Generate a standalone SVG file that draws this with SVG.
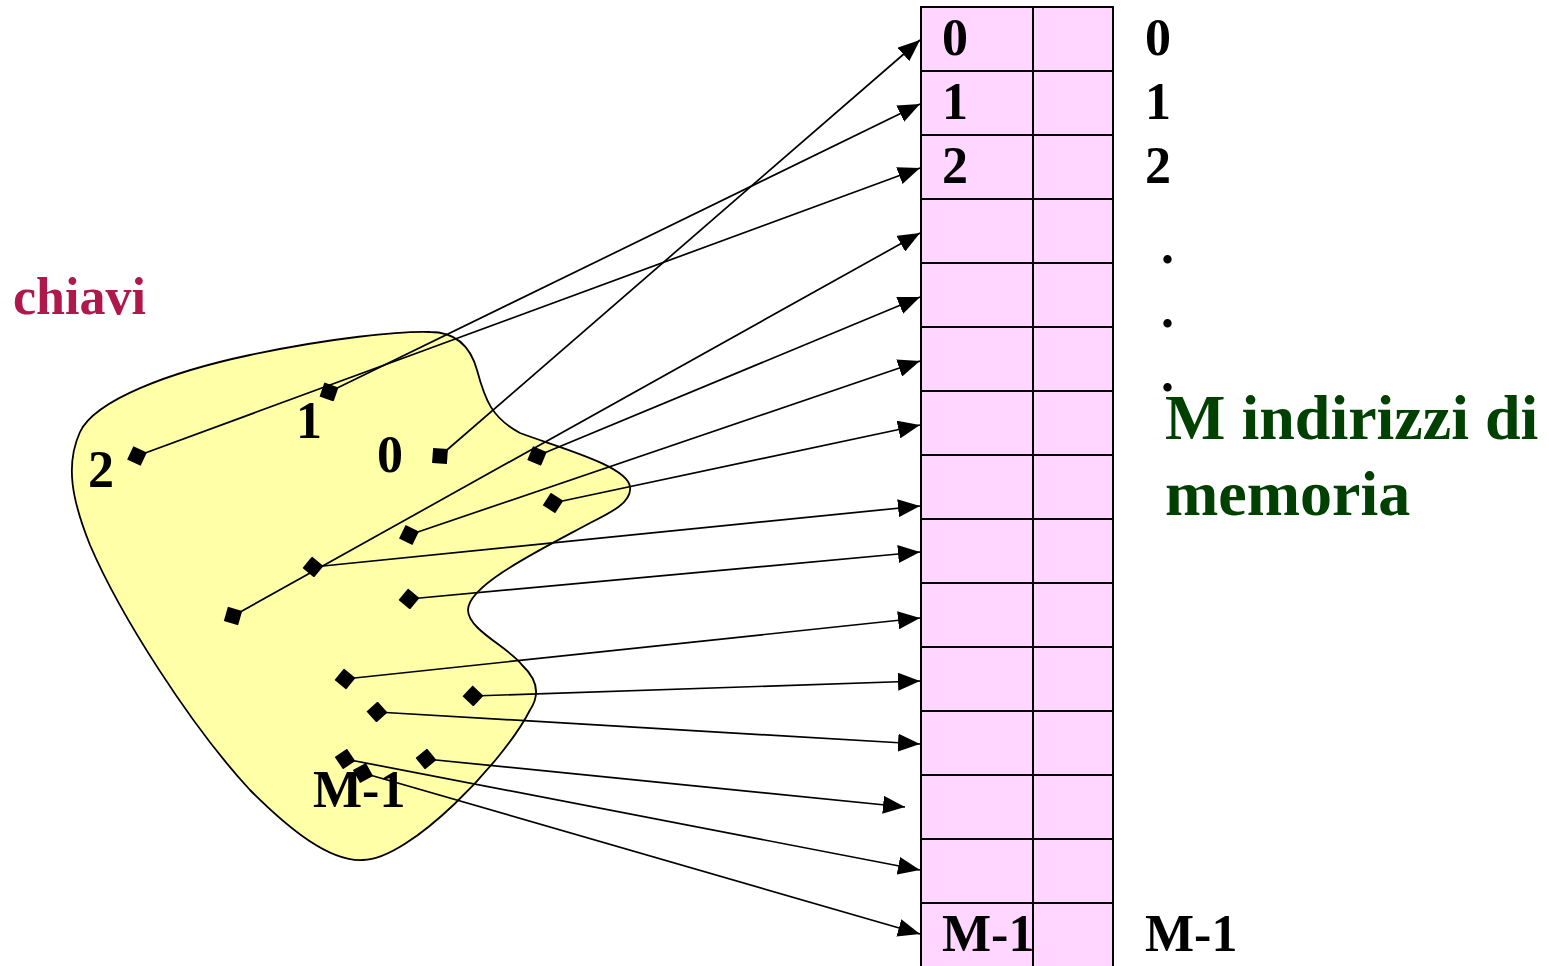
<svg xmlns="http://www.w3.org/2000/svg" width="1549" height="966" viewBox="0 0 1549 966">
<style>
  .t { font-family: "Liberation Serif", "Times New Roman", serif; font-weight: bold; font-size: 52px; fill: #000; }
  .big { font-size: 64px; fill: #004000; }
  .red { fill: #B0174A; }
  .grid { stroke: #000; stroke-width: 2; fill: none; }
  .conn { stroke: #000; stroke-width: 1.7; fill: none; marker-start: url(#dia); marker-end: url(#arr); }
</style>
<defs>
  <marker id="arr" viewBox="0 0 22 18" refX="22" refY="9" markerWidth="22" markerHeight="18" markerUnits="userSpaceOnUse" orient="auto">
    <path d="M0,0 L22,9 L0,18 z" fill="#000"/>
  </marker>
  <marker id="dia" viewBox="0 0 21 21" refX="10.5" refY="10.5" markerWidth="21" markerHeight="21" markerUnits="userSpaceOnUse" orient="auto">
    <path d="M0,10.5 L10.5,0 L21,10.5 L10.5,21 z" fill="#000"/>
  </marker>
</defs>
<rect width="1549" height="966" fill="#fff"/>

<g id="keys-set">
  <path d="M430,332 C455,332 470,345 477,370 C485,400 492,418 520,433 C560,448 628,466 630,487 C632,502 612,512 590,523 C540,550 468,585 468,610 C468,630 510,648 522,665 C538,680 540,695 530,710 C505,760 410,860 363,860 C330,862 290,830 250,790 C190,725 120,615 90,545 C72,500 65,465 80,432 C95,400 170,372 250,355 C330,338 400,331 430,332 Z" fill="#FFFFA8" stroke="#000" stroke-width="1.8"/>
</g>

<g id="table">
  <rect x="921" y="7" width="192" height="962" fill="#FFD6FF" stroke="#000" stroke-width="2"/>
  <line class="grid" x1="1033" y1="7" x2="1033" y2="966"/>
  <path class="grid" d="M921,71 H1113 M921,135 H1113 M921,199 H1113 M921,263 H1113 M921,327 H1113 M921,391 H1113 M921,455 H1113 M921,519 H1113 M921,583 H1113 M921,647 H1113 M921,711 H1113 M921,775 H1113 M921,839 H1113 M921,903 H1113"/>
  <text class="t" x="942" y="55">0</text>
  <text class="t" x="942" y="119">1</text>
  <text class="t" x="942" y="183">2</text>
  <text class="t" x="942" y="951">M-1</text>
</g>

<g id="connectors">
  <line class="conn" x1="440" y1="456" x2="920" y2="40"/>
  <line class="conn" x1="329" y1="392" x2="920" y2="104"/>
  <line class="conn" x1="137" y1="456" x2="920" y2="168"/>
  <line class="conn" x1="233" y1="616" x2="920" y2="233"/>
  <line class="conn" x1="537" y1="456" x2="920" y2="297"/>
  <line class="conn" x1="409" y1="535" x2="920" y2="361"/>
  <line class="conn" x1="553" y1="503" x2="920" y2="425"/>
  <line class="conn" x1="313" y1="567" x2="920" y2="506"/>
  <line class="conn" x1="409" y1="599" x2="920" y2="552"/>
  <line class="conn" x1="345" y1="679" x2="920" y2="618"/>
  <line class="conn" x1="473" y1="696" x2="920" y2="681"/>
  <line class="conn" x1="377" y1="712" x2="920" y2="744"/>
  <line class="conn" x1="426" y1="759" x2="905" y2="807"/>
  <line class="conn" x1="345" y1="759" x2="920" y2="870"/>
  <line class="conn" x1="363" y1="773" x2="920" y2="934"/>
</g>

<g id="key-labels">
  <text class="t" x="88" y="487">2</text>
  <text class="t" x="296" y="438">1</text>
  <text class="t" x="377" y="472">0</text>
  <text class="t" x="313" y="807">M-1</text>
</g>

<g id="label-chiavi">
  <text class="t red" x="13" y="314">chiavi</text>
</g>

<g id="address-labels">
  <text class="t" x="1145" y="55">0</text>
  <text class="t" x="1145" y="119">1</text>
  <text class="t" x="1145" y="183">2</text>
  <text class="t" x="1161" y="263">.</text>
  <text class="t" x="1161" y="327">.</text>
  <text class="t" x="1161" y="391">.</text>
  <text class="t" x="1145" y="951">M-1</text>
</g>

<g id="label-memoria">
  <text class="t big" x="1165" y="439">M indirizzi di</text>
  <text class="t big" x="1165" y="515">memoria</text>
</g>
</svg>
